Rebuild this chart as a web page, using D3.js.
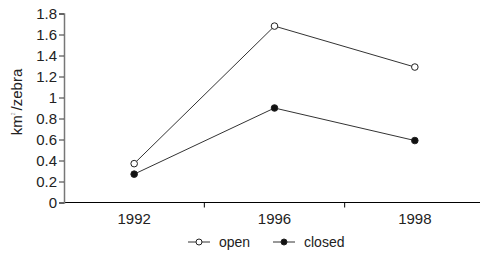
<!DOCTYPE html>
<html>
<head>
<meta charset="utf-8">
<script src="https://cdn.jsdelivr.net/npm/d3@7"></script>
<style>
  body { margin: 0; background: #fff; }
  text { font-family: "Liberation Sans", Arial, sans-serif; fill: #222; }
</style>
</head>
<body>
<div id="container"></div>
<script>
let w = 480;
let h = 254;

// values
let years = ["1992", "1996", "1998"];
let openValues = [0.37, 1.68, 1.29];
let closedValues = [0.27, 0.90, 0.59];
let yTicks = [0, 0.2, 0.4, 0.6, 0.8, 1, 1.2, 1.4, 1.6, 1.8];

let viz = d3.select("#container")
  .append("svg")
    .attr("width", w)
    .attr("height", h);

let left = 64;
let xScale = d3.scaleBand().domain(years).range([left, 485]);
let yScale = d3.scaleLinear().domain([0, 1.8]).range([202.5, 13.5]);

// x axis: line plus ticks between the categories
let xAxisGroup = viz.append("g")
  .attr("transform", "translate(0," + yScale(0) + ")");
xAxisGroup.append("line")
  .attr("x1", left).attr("x2", 480)
  .attr("stroke", "#000").attr("stroke-width", 1.2);
xAxisGroup.selectAll(".sep")
  .data(years.slice(1))
  .enter().append("line")
    .attr("x1", d => xScale(d)).attr("x2", d => xScale(d))
    .attr("y1", 0).attr("y2", 5)
    .attr("stroke", "#000");
xAxisGroup.selectAll(".lab")
  .data(years)
  .enter().append("text")
    .attr("x", d => xScale(d) + xScale.bandwidth() / 2)
    .attr("y", 21)
    .attr("text-anchor", "middle")
    .style("font-size", "15px")
    .text(d => d);

// y axis
let yAxis = d3.axisLeft(yScale).tickValues(yTicks).tickSize(5).tickPadding(2)
  .tickFormat(d => String(d));
let yAxisGroup = viz.append("g")
  .attr("transform", "translate(" + left + ",0)")
  .call(yAxis);
yAxisGroup.select(".domain").attr("stroke", "#777").attr("stroke-width", 1.5);
yAxisGroup.selectAll(".tick line").attr("stroke", "#333");
yAxisGroup.selectAll(".tick text")
  .style("font-size", "15px")
  .style("font-family", "'Liberation Sans', Arial, sans-serif")
  .attr("fill", "#222");

// y label
let ylab = viz.append("text")
  .attr("transform", "translate(22,102) rotate(-90)")
  .attr("text-anchor", "middle")
  .style("font-size", "15px");
ylab.append("tspan").text("km");
ylab.append("tspan").text("2").style("font-size", "5px").attr("dy", -7).attr("fill", "#999");
ylab.append("tspan").text("/zebra").attr("dy", 7).attr("dx", 2);

// lines and markers
let line = d3.line()
  .x((d, i) => xScale(years[i]) + xScale.bandwidth() / 2)
  .y(d => yScale(d));

let series = [
  { name: "open", values: openValues, fill: "#fff" },
  { name: "closed", values: closedValues, fill: "#111" }
];

series.forEach(function(s){
  viz.append("path")
    .attr("d", line(s.values))
    .attr("fill", "none")
    .attr("stroke", "#333")
    .attr("stroke-width", 1);
  viz.selectAll(".pt-" + s.name)
    .data(s.values)
    .enter().append("circle")
      .attr("cx", (d, i) => xScale(years[i]) + xScale.bandwidth() / 2)
      .attr("cy", d => yScale(d))
      .attr("r", 3.3)
      .attr("fill", s.fill)
      .attr("stroke", "#222")
      .attr("stroke-width", 1);
});

// legend
let legend = viz.append("g").attr("transform", "translate(0,242)");
let legendX = [188, 273];
series.forEach(function(s, i){
  let g = legend.append("g").attr("transform", "translate(" + legendX[i] + ",0)");
  g.append("line").attr("x1", 0).attr("x2", 22).attr("stroke", "#333");
  g.append("circle").attr("cx", 11).attr("cy", 0).attr("r", 3)
    .attr("fill", s.fill).attr("stroke", "#222");
  g.append("text").attr("x", 31).attr("y", 5)
    .style("font-size", "14px").text(s.name);
});
</script>
</body>
</html>
